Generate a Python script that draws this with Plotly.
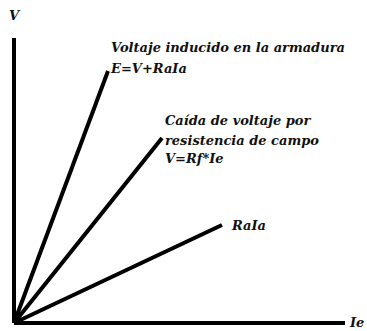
import plotly.graph_objects as go

# Data (arbitrary units: Ie horizontal, V vertical)
series_names = ["E=V+RaIa", "V=Rf*Ie", "RaIa"]
ie_end = [94, 148, 208]
v_end = [252, 185, 98]
axis_ie_max = 331
axis_v_max = 285

fig = go.Figure()
# axes
fig.add_trace(go.Scatter(x=[0, 0], y=[0, axis_v_max], mode="lines",
                         line=dict(color="black", width=4), hoverinfo="skip", showlegend=False))
fig.add_trace(go.Scatter(x=[0, axis_ie_max], y=[0, 0], mode="lines",
                         line=dict(color="black", width=4), hoverinfo="skip", showlegend=False))
for n, xe, ye in zip(series_names, ie_end, v_end):
    fig.add_trace(go.Scatter(x=[0, xe], y=[0, ye], mode="lines", name=n,
                             line=dict(color="black", width=4), showlegend=False))

font = dict(family="DejaVu Serif", size=13, color="#111")
def ann(x, y, t, xa="left"):
    fig.add_annotation(x=x, y=y, text=t, showarrow=False, xanchor=xa, yanchor="middle",
                       font=font)

ann(95, 276, "<b><i>Voltaje inducido en la armadura</i></b>")
ann(94, 255, "<b><i>E=V+RaIa</i></b>")
ann(149, 203, "<b><i>Caída de voltaje por</i></b>")
ann(149, 183, "<b><i>resistencia de campo</i></b>")
ann(149, 165, "<b><i>V=Rf*Ie</i></b>")
ann(215, 98, "<b><i>RaIa</i></b>")
ann(-7, 308, "<b><i>V</i></b>")
ann(333, 1, "<b><i>Ie</i></b>")

fig.update_layout(width=367, height=331, margin=dict(l=0, r=0, t=0, b=0),
                  paper_bgcolor="white", plot_bgcolor="white",
                  xaxis=dict(range=[-14, 353], visible=False),
                  yaxis=dict(range=[-8, 323], visible=False))
fig.write_html("out.html", config={"displayModeBar": False},
               post_script="document.body.style.margin='0';document.body.style.overflow='hidden';")
